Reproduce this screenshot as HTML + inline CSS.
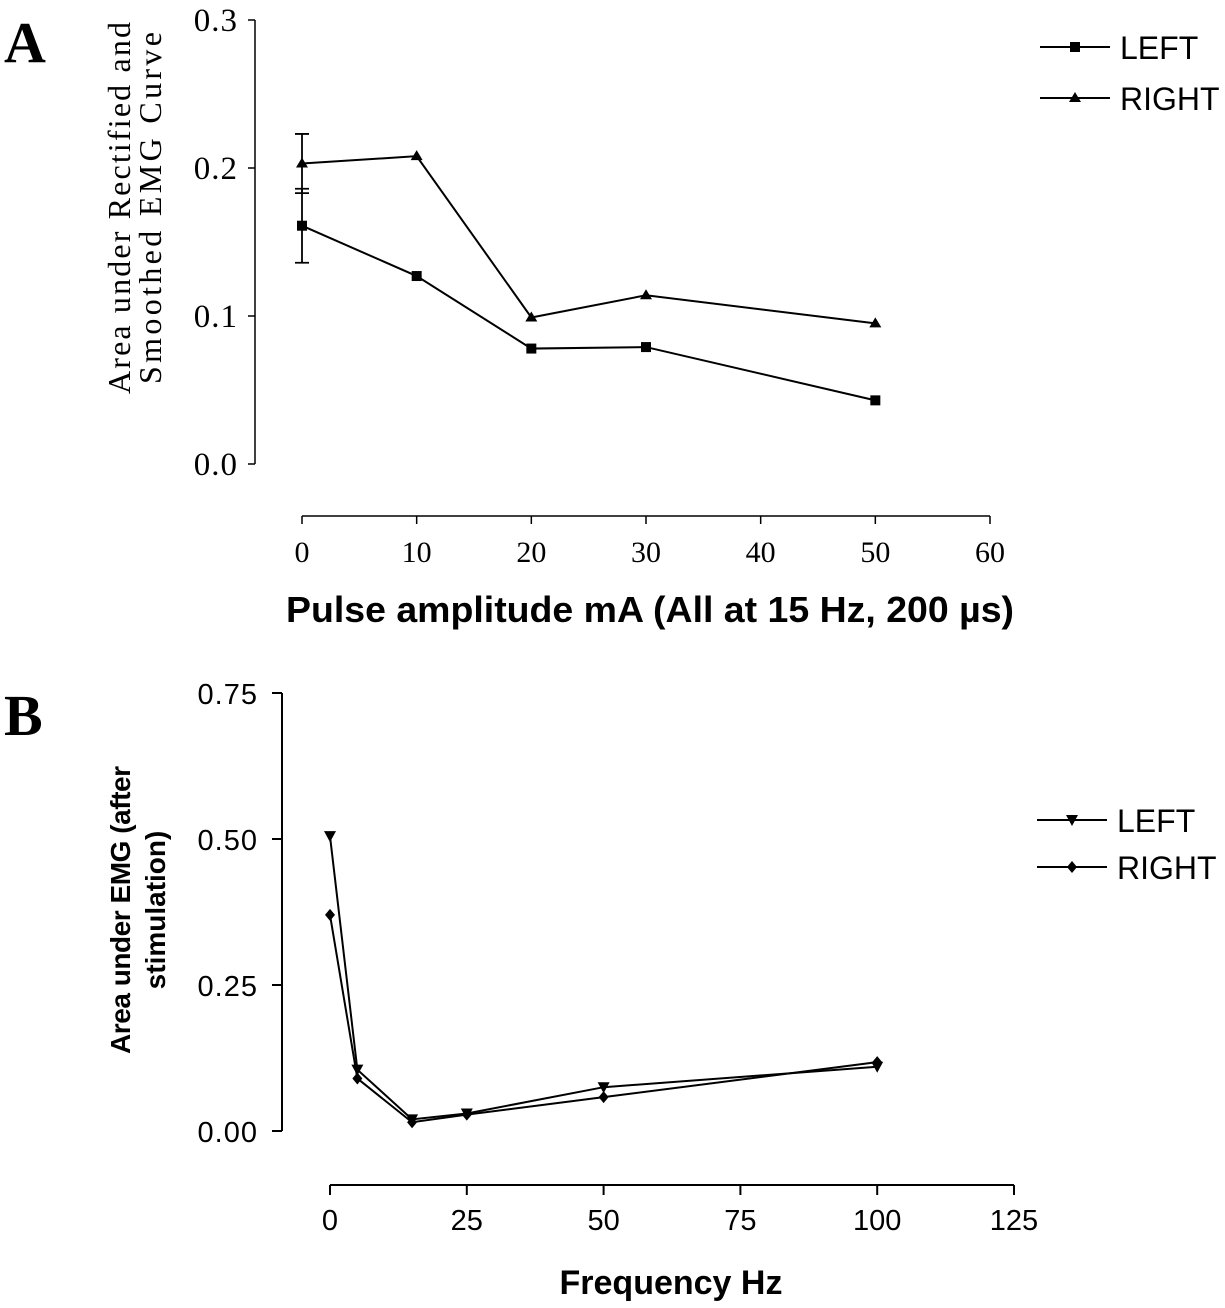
<!DOCTYPE html>
<html><head><meta charset="utf-8"><style>
body{margin:0;background:#fff;}
svg{display:block;}
</style></head><body>
<svg id="chart" width="1225" height="1308" viewBox="0 0 1225 1308" xmlns="http://www.w3.org/2000/svg"></svg>
<script>
// Panel A data
const aCats = [0, 10, 20, 30, 50];
const aLeft = [0.161, 0.127, 0.078, 0.079, 0.043];
const aRight = [0.203, 0.208, 0.099, 0.114, 0.095];
const aLeftErr = [0.025, 0, 0, 0, 0];
const aRightErr = [0.020, 0, 0, 0, 0];
const aYTicks = [0.0, 0.1, 0.2, 0.3];
const aXTicks = [0, 10, 20, 30, 40, 50, 60];
// Panel B data
const bCats = [0, 5, 15, 25, 50, 100];
const bLeft = [0.505, 0.105, 0.020, 0.030, 0.075, 0.110];
const bRight = [0.370, 0.090, 0.015, 0.028, 0.058, 0.118];
const bYTicks = [0.00, 0.25, 0.50, 0.75];
const bXTicks = [0, 25, 50, 75, 100, 125];

const svg = document.getElementById('chart');
const NS = 'http://www.w3.org/2000/svg';
function mk(tag, attrs, parent, text){
  const e = document.createElementNS(NS, tag);
  for (const k in attrs) e.setAttribute(k, attrs[k]);
  if (text !== undefined) e.textContent = text;
  (parent || svg).appendChild(e);
  return e;
}
const serif = '"Liberation Serif", serif';
const sans = '"Liberation Sans", "DejaVu Sans", sans-serif';

// ---------- Panel A ----------
const ax = v => 302 + v * (688 / 60);
const ay = v => 464 - v * (444 / 0.3);
const gA = mk('g', {});


const pa = mk('text', {x: 4, y: 62, 'font-family': serif, 'font-size': 58, 'font-weight': 'bold'}, gA, 'A');


const ayAxis = mk('line', {x1: 255, y1: ay(0.3), x2: 255, y2: ay(0), stroke: '#000', 'stroke-width': 1.5}, gA);


aYTicks.forEach(t => {
  mk('line', {x1: 248, x2: 255, y1: ay(t), y2: ay(t), stroke: '#000', 'stroke-width': 1.5}, gA);
  const l = mk('text', {x: 238, y: ay(t) + 11, 'text-anchor': 'end', 'font-family': serif, 'font-size': 33, 'letter-spacing': 1}, gA, t.toFixed(1));
  
  
});
const axAxis = mk('line', {x1: ax(0), x2: ax(60), y1: 516, y2: 516, stroke: '#000', 'stroke-width': 1.5}, gA);


aXTicks.forEach(t => {
  mk('line', {x1: ax(t), x2: ax(t), y1: 516, y2: 524, stroke: '#000', 'stroke-width': 1.5}, gA);
  const l = mk('text', {x: ax(t), y: 562, 'text-anchor': 'middle', 'font-family': serif, 'font-size': 30}, gA, t);
  
  
});
const ayt = mk('text', {x: 0, y: 0, transform: 'translate(136,208) rotate(-90)', 'text-anchor': 'middle', 'font-family': serif, 'font-size': 32}, gA);


mk('tspan', {x: 0, dy: -6, textLength: 372, lengthAdjust: 'spacing'}, ayt, 'Area under Rectified and');
mk('tspan', {x: 0, dy: 31, textLength: 352, lengthAdjust: 'spacing'}, ayt, 'Smoothed EMG Curve');
const axt = mk('text', {x: 650, y: 622, 'text-anchor': 'middle', 'font-family': sans, 'font-size': 36, 'font-weight': 'bold', textLength: 728, lengthAdjust: 'spacingAndGlyphs'}, gA, 'Pulse amplitude mA (All at 15 Hz, 200 µs)');



function errBars(cats, vals, errs, xs, ys, g, name){
  cats.forEach((c, i) => {
    if (!errs[i]) return;
    const x = xs(c);
    const e = mk('path', {d: `M${x},${ys(vals[i]-errs[i])}V${ys(vals[i]+errs[i])}M${x-7},${ys(vals[i]-errs[i])}h14M${x-7},${ys(vals[i]+errs[i])}h14`, stroke: '#000', 'stroke-width': 1.8, fill: 'none'}, g);
    
    
  });
}
function series(cats, vals, xs, ys, g, name, marker){
  const pl = mk('polyline', {points: cats.map((c, i) => xs(c) + ',' + ys(vals[i])).join(' '), fill: 'none', stroke: '#000', 'stroke-width': 2}, g);
  
  
  cats.forEach((c, i) => {
    const m = marker(xs(c), ys(vals[i]), g);
    
    
  });
}
const sq = (x, y, g) => mk('rect', {x: x - 5, y: y - 5, width: 10, height: 10, fill: '#000'}, g);
const tri = (x, y, g) => mk('path', {d: `M${x},${y-6}L${x+6},${y+4}L${x-6},${y+4}Z`, fill: '#000'}, g);
const dtri = (x, y, g) => mk('path', {d: `M${x-6},${y-5}L${x+6},${y-5}L${x},${y+6}Z`, fill: '#000'}, g);
const dia = (x, y, g) => mk('path', {d: `M${x},${y-6}L${x+5},${y}L${x},${y+6}L${x-5},${y}Z`, fill: '#000'}, g);

errBars(aCats, aLeft, aLeftErr, ax, ay, gA, 'panel-a-left-error-bar');
errBars(aCats, aRight, aRightErr, ax, ay, gA, 'panel-a-right-error-bar');
series(aCats, aLeft, ax, ay, gA, 'panel-a-left', sq);
series(aCats, aRight, ax, ay, gA, 'panel-a-right', tri);

function legend(g, x, y, label, marker, name, font, size){
  const le = mk('g', {}, g);
  
  
  mk('line', {x1: x, x2: x + 70, y1: y, y2: y, stroke: '#000', 'stroke-width': 2}, le);
  marker(x + 35, y, le);
  mk('text', {x: x + 80, y: y + 12, 'font-family': font, 'font-size': size}, le, label);
}
legend(gA, 1040, 47, 'LEFT', sq, 'panel-a-legend-left', sans, 32);
legend(gA, 1040, 98, 'RIGHT', tri, 'panel-a-legend-right', sans, 32);

// ---------- Panel B ----------
const bx = v => 330 + v * (684 / 125);
const by = v => 1131 - v * (438 / 0.75);
const gB = mk('g', {});


const pb = mk('text', {x: 4, y: 735, 'font-family': serif, 'font-size': 58, 'font-weight': 'bold'}, gB, 'B');


const byAxis = mk('line', {x1: 282, y1: by(0.75), x2: 282, y2: by(0), stroke: '#000', 'stroke-width': 2}, gB);


bYTicks.forEach(t => {
  mk('line', {x1: 272, x2: 282, y1: by(t), y2: by(t), stroke: '#000', 'stroke-width': 2}, gB);
  const l = mk('text', {x: 258, y: by(t) + 11, 'text-anchor': 'end', 'font-family': sans, 'font-size': 29, 'letter-spacing': 1}, gB, t.toFixed(2));
  
  
});
const bxAxis = mk('line', {x1: bx(0), x2: bx(125), y1: 1185, y2: 1185, stroke: '#000', 'stroke-width': 2}, gB);


bXTicks.forEach(t => {
  mk('line', {x1: bx(t), x2: bx(t), y1: 1185, y2: 1195, stroke: '#000', 'stroke-width': 2}, gB);
  const l = mk('text', {x: bx(t), y: 1230, 'text-anchor': 'middle', 'font-family': sans, 'font-size': 29}, gB, t);
  
  
});
const byt = mk('text', {x: 0, y: 0, transform: 'translate(138,910) rotate(-90)', 'text-anchor': 'middle', 'font-family': sans, 'font-size': 28, 'font-weight': 'bold'}, gB);


mk('tspan', {x: 0, dy: -8, textLength: 288, lengthAdjust: 'spacing'}, byt, 'Area under EMG (after');
mk('tspan', {x: 0, dy: 35}, byt, 'stimulation)');
const bxt = mk('text', {x: 671, y: 1294, 'text-anchor': 'middle', 'font-family': sans, 'font-size': 34, 'font-weight': 'bold'}, gB, 'Frequency Hz');


series(bCats, bLeft, bx, by, gB, 'panel-b-left', dtri);
series(bCats, bRight, bx, by, gB, 'panel-b-right', dia);
legend(gB, 1037, 820, 'LEFT', dtri, 'panel-b-legend-left', sans, 32);
legend(gB, 1037, 867, 'RIGHT', dia, 'panel-b-legend-right', sans, 32);
</script>
</body></html>
